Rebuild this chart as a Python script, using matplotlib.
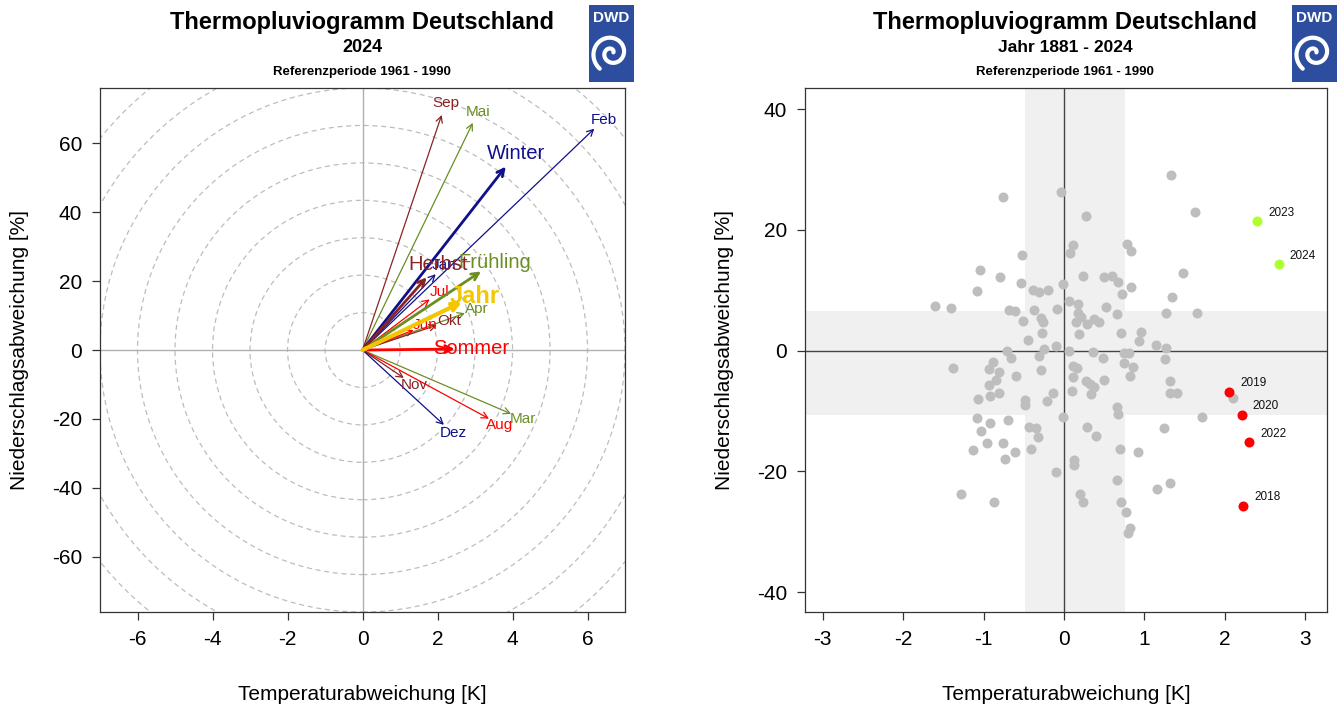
import numpy as np
import matplotlib.pyplot as plt
from matplotlib.patches import Ellipse, Rectangle

plt.rcParams['font.family'] = ['Liberation Sans', 'DejaVu Sans']
plt.rcParams['axes.unicode_minus'] = False

# left panel: monthly / seasonal anomalies 2024
months = ["Jan", "Feb", "Mar", "Apr", "Mai", "Jun", "Jul", "Aug", "Sep", "Okt", "Nov", "Dez"]
month_temp = [1.95, 6.18, 3.96, 2.73, 2.94, 1.36, 1.79, 3.37, 2.11, 1.98, 1.10, 2.17]
month_prec = [22.0, 64.2, -18.5, 10.7, 65.9, 5.8, 14.7, -19.9, 68.2, 7.2, -8.1, -21.7]

seasons = ["Winter", "Frühling", "Sommer", "Herbst"]
season_temp = [3.82, 3.16, 2.46, 1.71]
season_prec = [53.2, 22.8, 0.3, 21.1]

year_temp = 2.65
year_prec = 13.9

# right panel: yearly anomalies 1881 - 2024 (grey) and highlighted years
hist_temp = [-0.754, -0.037, -0.518, -1.043, -0.795, -0.534, -1.077, -0.389, -0.307, -0.195,
             -0.012, -1.606, -1.400, -0.687, -0.605, -0.373, -0.087, 0.062, -0.513, -0.282,
             -0.257, -0.273, -0.447, -0.103, -0.245, -0.704, 1.329, 0.277, 1.627, 0.112,
             0.071, 0.786, 0.836, 0.236, 0.501, 0.593, 0.667, 0.836, 0.720, 1.475,
             1.345, 0.174, 0.525, 0.170, 0.211, 0.153, 0.373, 0.435, 0.289, 0.658,
             1.267, 1.648, 0.186, 0.712, 0.953, 0.932, 1.147, 1.263, 0.062, 0.360,
             0.742, 0.807, -0.662, -0.314, -1.383, -0.886, -0.928, -0.804, -0.845, -0.593,
             -0.286, -0.928, -0.811, -0.919, -1.065, -0.481, -0.488, -0.215, -0.140, -0.016,
             -1.084, -0.923, -0.696, -1.031, -0.431, -0.348, -0.323, -0.953, -0.758, -1.134,
             -0.612, -0.414, -0.733, -0.099, -1.283, -0.866, 0.120, 0.128, 0.488, 1.255,
             0.112, 0.158, 0.749, 0.861, 0.116, 0.497, 0.824, 0.270, 0.323, 0.373,
             0.099, 0.335, 1.317, 1.320, 1.407, 0.662, 0.667, 1.714, 0.282, 0.398,
             1.246, 0.699, 0.916, 0.655, 1.155, 1.317, 0.195, 0.240, 0.708, 0.774,
             0.824, 0.795, 2.103]
hist_prec = [25.45, 26.23, 15.87, 13.34, 12.18, 11.24, 9.87, 10.08, 9.75, 10.08,
             11.12, 7.44, 7.06, 6.73, 6.50, 6.73, 6.83, 8.15, 4.96, 5.40,
             4.74, 2.86, 1.77, 0.83, 0.28, 0.0, 29.09, 22.36, 22.98, 17.52,
             16.25, 17.74, 16.58, 12.35, 12.23, 12.35, 11.29, 10.53, 9.31, 12.94,
             8.81, 7.65, 7.16, 6.17, 5.50, 4.79, 5.17, 4.68, 4.35, 6.12,
             6.23, 6.28, 2.81, 2.93, 3.09, 1.54, 0.94, 0.38, -0.08, -0.17,
             -0.45, -0.45, -1.21, -0.83, -2.86, -1.93, -2.98, -3.59, -4.79, -4.13,
             -3.26, -5.62, -6.99, -7.44, -7.93, -8.10, -8.93, -8.38, -7.06, -10.96,
             -11.12, -12.07, -11.52, -13.39, -12.73, -12.89, -14.33, -15.37, -15.26, -16.48,
             -16.81, -16.36, -17.97, -20.05, -23.80, -25.12, -18.18, -19.01, -1.21, -1.32,
             -2.48, -2.86, -2.03, -2.69, -4.35, -4.79, -4.13, -5.07, -5.50, -6.00,
             -6.73, -7.16, -4.96, -7.06, -7.06, -9.42, -10.53, -11.07, -12.73, -14.17,
             -12.78, -16.36, -16.86, -21.37, -22.93, -21.98, -23.75, -25.01, -25.01, -26.73,
             -29.42, -30.20, -7.88]

wet_years = ["2023", "2024"]
wet_temp = [2.40, 2.67]
wet_prec = [21.5, 14.3]
dry_years = ["2019", "2020", "2022", "2018"]
dry_temp = [2.05, 2.21, 2.30, 2.23]
dry_prec = [-6.8, -10.6, -15.2, -25.7]

# reference band (1961 - 1990)
band_temp = (-0.48, 0.76)
band_prec = (-10.6, 6.6)

winter_c = "#10108a"
spring_c = "#6b8e23"
summer_c = "#ff0000"
autumn_c = "#8b2323"
year_c = "#f2c600"
month_colors = [winter_c, winter_c, spring_c, spring_c, spring_c, summer_c,
                summer_c, summer_c, autumn_c, autumn_c, autumn_c, winter_c]
season_colors = [winter_c, spring_c, summer_c, autumn_c]

fig = plt.figure(figsize=(13.39, 7.09), dpi=100)
ax1 = fig.add_axes([0.0747, 0.1368, 0.3921, 0.739])
ax2 = fig.add_axes([0.6012, 0.1368, 0.3898, 0.739])

xr, yr = 7.0, 76.0


def label_offset(t, p, k):
    dx = t / (2 * xr)
    dy = p / (2 * yr)
    n = np.hypot(dx, dy)
    return dx / n * k, dy / n * k


def arrow(ax, t, p, c, lw, head=0.45):
    ax.annotate('', xy=(t, p), xytext=(0, 0),
                arrowprops=dict(arrowstyle='->,head_length=%.2f,head_width=%.2f' % (head, head / 2),
                                color=c, lw=lw, shrinkA=0, shrinkB=0))


# ---- left panel
for k in range(1, 11):
    ax1.add_patch(Ellipse((0, 0), 2 * k, 2 * k * yr / xr, fill=False,
                          ec='#bdbdbd', lw=0.9, ls=(0, (4, 3))))
ax1.axhline(0, color='#b0b0b0', lw=1)
ax1.axvline(0, color='#b0b0b0', lw=1)

for m, t, p, c in zip(months, month_temp, month_prec, month_colors):
    arrow(ax1, t, p, c, 0.9)
for m, t, p, c in zip(months, month_temp, month_prec, month_colors):
    ox, oy = label_offset(t, p, 9)
    ax1.annotate(m, (t, p), xytext=(ox, oy), textcoords='offset points',
                 ha='center', va='center', color=c, fontsize=11)

for s, t, p, c in zip(seasons, season_temp, season_prec, season_colors):
    arrow(ax1, t, p, c, 2.0, head=0.5)
arrow(ax1, year_temp, year_prec, year_c, 3.0, head=0.5)

for s, t, p, c in zip(seasons, season_temp, season_prec, season_colors):
    ox, oy = label_offset(t, p, 12)
    ax1.annotate(s, (t, p), xytext=(ox, oy), textcoords='offset points',
                 ha='center', va='center', color=c, fontsize=14.5)
ox, oy = label_offset(year_temp, year_prec, 10)
ax1.annotate("Jahr", (year_temp, year_prec), xytext=(ox, oy), textcoords='offset points',
             ha='center', va='center', color=year_c, fontsize=17, fontweight='bold')

ax1.set_xlim(-xr, xr)
ax1.set_ylim(-yr, yr)
ax1.set_xticks(np.arange(-6, 7, 2))
ax1.set_yticks(np.arange(-60, 61, 20))

# ---- right panel
ax2.axvspan(band_temp[0], band_temp[1], color='#f0f0f0', lw=0, zorder=0)
ax2.axhspan(band_prec[0], band_prec[1], color='#f0f0f0', lw=0, zorder=0)
ax2.axhline(0, color='#444444', lw=1, zorder=1)
ax2.axvline(0, color='#444444', lw=1, zorder=1)
ax2.scatter(hist_temp, hist_prec, s=52, color='#bebebe', lw=0, zorder=2)
ax2.scatter(wet_temp, wet_prec, s=52, color='#adff2f', lw=0, zorder=3)
ax2.scatter(dry_temp, dry_prec, s=52, color='#ff0000', lw=0, zorder=3)
for yrs, ts, ps in [(wet_years, wet_temp, wet_prec), (dry_years, dry_temp, dry_prec)]:
    for y, t, p in zip(yrs, ts, ps):
        ax2.annotate(y, (t, p), xytext=(8, 6), textcoords='offset points',
                     ha='left', va='center', fontsize=8.5, color='#111111')
ax2.set_xlim(-3.22, 3.27)
ax2.set_ylim(-43.3, 43.5)
ax2.set_xticks(np.arange(-3, 4, 1))
ax2.set_yticks(np.arange(-40, 41, 20))

for ax in (ax1, ax2):
    for sp in ax.spines.values():
        sp.set_color('#333333')
        sp.set_linewidth(0.9)
    ax.tick_params(direction='out', length=6, width=0.9, color='#333333',
                   labelsize=15, pad=7)
    ax.set_xlabel("Temperaturabweichung [K]", fontsize=15, labelpad=26)
    ax.set_ylabel("Niederschlagsabweichung [%]", fontsize=15, labelpad=16)

# ---- titles
for xc, sub in [(362, "2024"), (1065, "Jahr 1881 - 2024")]:
    fig.text(xc / 1339, 1 - 22 / 709, "Thermopluviogramm Deutschland", ha='center', va='center',
             fontsize=17, fontweight='bold')
    fig.text(xc / 1339, 1 - 48 / 709, sub, ha='center', va='center',
             fontsize=13 if sub == "2024" else 12.5, fontweight='bold')
    fig.text(xc / 1339, 1 - 72 / 709, "Referenzperiode 1961 - 1990", ha='center', va='center',
             fontsize=9.5, fontweight='bold')

# ---- DWD logos
for lx in (589, 1292):
    lax = fig.add_axes([lx / 1339, 1 - 82 / 709, 45 / 1339, 77 / 709])
    lax.set_xlim(0, 45)
    lax.set_ylim(0, 77)
    lax.axis('off')
    lax.add_patch(Rectangle((0, 0), 45, 77, color='#2d4e9f'))
    lax.text(22.5, 64, "DWD", color='white', ha='center', va='center',
             fontsize=11, fontweight='bold')
    th = np.linspace(0, 3.2 * np.pi, 300)
    r = 2.0 + 1.75 * th
    lax.plot(22.5 + r * np.cos(th + 0.3), 29 + r * np.sin(th + 0.3),
             color='white', lw=3.0, solid_capstyle='round')

fig.savefig("out.png", dpi=100)
